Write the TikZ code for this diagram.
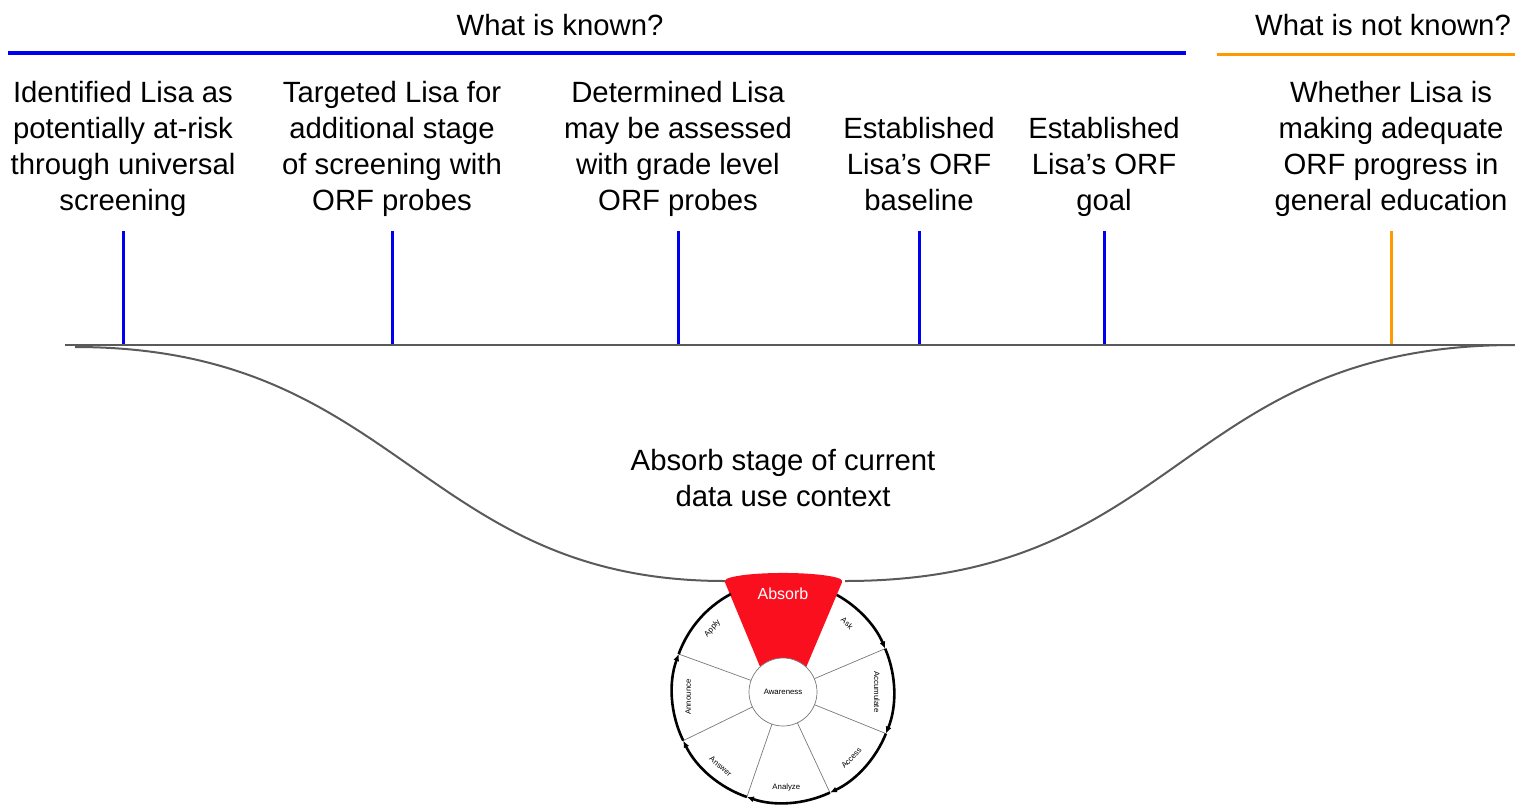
\documentclass[tikz,border=0pt]{standalone}
\usepackage{fontspec}
\setmainfont{Liberation Sans}
\usetikzlibrary{arrows.meta,calc}
\definecolor{kblue}{RGB}{0,0,240}
\definecolor{korange}{RGB}{255,153,0}
\definecolor{absred}{RGB}{250,15,30}
\definecolor{lgray}{RGB}{90,90,90}
\definecolor{dgray}{RGB}{120,120,120}
\begin{document}
\begin{tikzpicture}[x=1pt,y=1pt,
  lbl/.style={font=\fontsize{29.3}{36}\selectfont, align=center, inner sep=0, anchor=base},
  hdr/.style={font=\fontsize{29.3}{34}\selectfont, inner sep=0, anchor=base},
  knowntick/.style={kblue, line width=3pt},
  unknowntick/.style={korange, line width=3pt},
  funnel/.style={lgray, line width=2pt},
  divider/.style={dgray, line width=0.7pt},
  ring/.style={black, line width=2.6pt},
  ringarrow/.style={ring, -{Latex[length=7pt,width=6pt]}},
  small/.style={font=\fontsize{7.8}{9}\selectfont, inner sep=0}]
\useasboundingbox (0,0) rectangle (1515,-806);

% headers
\node[hdr] (known) at (560,-35) {What is known?};
\node[hdr] (unknown) at (1383,-35) {What is not known?};
\coordinate (kb1) at (8,-53);
\coordinate (kb2) at (1186,-53);
\coordinate (ub1) at (1217,-54);
\coordinate (ub2) at (1515,-54);
\draw[kblue, line width=3.5pt] (kb1) -- (kb2);
\draw[korange, line width=3pt] (ub1) -- (ub2);

% items (base anchor = baseline of last line)
\node[lbl] (i1) at (123,-210) {Identified Lisa as\\potentially at-risk\\through universal\\screening};
\node[lbl] (i2) at (392,-210) {Targeted Lisa for\\additional stage\\of screening with\\ORF probes};
\node[lbl] (i3) at (678,-210) {Determined Lisa\\may be assessed\\with grade level\\ORF probes};
\node[lbl] (i4) at (919,-210) {Established\\Lisa’s ORF\\baseline};
\node[lbl] (i5) at (1104,-210) {Established\\Lisa’s ORF\\goal};
\node[lbl] (i6) at (1391,-210) {Whether Lisa is\\making adequate\\ORF progress in\\general education};

% baseline
\coordinate (bl) at (65,-345);
\coordinate (br) at (1515,-345);
\draw[funnel] (bl) -- (br);

% ticks
\foreach \x/\n in {123/1,392/2,678/3,919/4,1104/5}{
  \coordinate (tt\n) at (\x,-231);
  \coordinate (tb\n) at (\x,-344);
  \draw[knowntick] (tt\n) -- (tb\n);
}
\coordinate (tt6) at (1391,-231);
\coordinate (tb6) at (1391,-344);
\draw[unknowntick] (tt6) -- (tb6);

% funnel
\coordinate (fl0) at (75,-347);
\coordinate (fl1) at (725,-581);
\coordinate (fr1) at (845,-581);
\coordinate (fr0) at (1515,-345);
\draw[funnel] (fl0) .. controls (400,-347) and (420,-581) .. (fl1);
\draw[funnel] (fr1) .. controls (1180,-581) and (1180,-345) .. (fr0);

\node[lbl] (stage) at (783,-506) {Absorb stage of current\\data use context};

% wheel
\coordinate (c) at (783,-692);
\fill[absred, rounded corners=3pt] (783,-722) -- (724,-580) .. controls (745,-571) and (821,-571) .. (843,-580) -- cycle;

\foreach \a in {23,-22,-65,-109,-154,160}{
  \draw[divider] ($(c)+(\a:34)$) -- ($(c)+(\a:111)$);
}

\draw[ringarrow] ($(c)+(61:111)$) arc[start angle=61, end angle=23, radius=111];
\draw[ringarrow] ($(c)+(23:111)$) arc[start angle=23, end angle=-22, radius=111];
\draw[ringarrow] ($(c)+(-22:111)$) arc[start angle=-22, end angle=-65, radius=111];
\draw[ringarrow] ($(c)+(-65:111)$) arc[start angle=-65, end angle=-109, radius=111];
\draw[ringarrow] ($(c)+(-109:111)$) arc[start angle=-109, end angle=-154, radius=111];
\draw[ringarrow] ($(c)+(-154:111)$) arc[start angle=-154, end angle=-200, radius=111];
\draw[ring] ($(c)+(160:111)$) arc[start angle=160, end angle=118, radius=111];

\node[circle, draw=dgray, fill=white, line width=0.7pt, minimum size=68pt, inner sep=0, font=\fontsize{7.8}{9}\selectfont] (aw) at (c) {Awareness};

\node[font=\fontsize{16}{18}\selectfont, text=white, inner sep=0] (absorb) at (783,-594) {Absorb};

\node[small, rotate=-43] (ask) at ($(c)+(47:94)$) {Ask};
\node[small, rotate=-90] (acc) at ($(c)+(0:94)$) {Accumulate};
\node[small, rotate=46] (access) at ($(c)+(-44:95)$) {Access};
\node[small] (analyze) at ($(c)+(-88:96)$) {Analyze};
\node[small, rotate=-40] (answer) at ($(c)+(-130:97)$) {Answer};
\node[small, rotate=90] (announce) at ($(c)+(183:95)$) {Announce};
\node[small, rotate=48] (apply) at ($(c)+(138:95)$) {Apply};
\end{tikzpicture}
\end{document}
